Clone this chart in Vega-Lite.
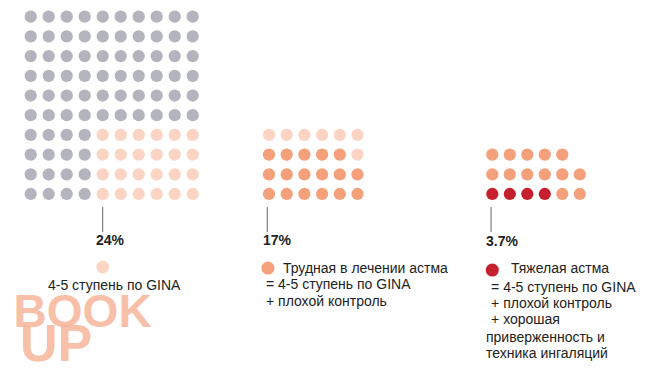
{
  "$schema": "https://vega.github.io/schema/vega-lite/v6.json",
  "padding": 0,
  "spacing": 0,
  "background": "white",
  "config": {"view": {"stroke": null}, "concat": {"spacing": 0}},
  "resolve": {"scale": {"x": "independent", "y": "independent"}},
  "datasets": {
    "dots": [
      {"g":1,"col":0,"row":0,"cat":"o"},{"g":1,"col":1,"row":0,"cat":"o"},{"g":1,"col":2,"row":0,"cat":"o"},{"g":1,"col":3,"row":0,"cat":"o"},{"g":1,"col":4,"row":0,"cat":"o"},{"g":1,"col":5,"row":0,"cat":"o"},{"g":1,"col":6,"row":0,"cat":"o"},{"g":1,"col":7,"row":0,"cat":"o"},{"g":1,"col":8,"row":0,"cat":"o"},{"g":1,"col":9,"row":0,"cat":"o"},
      {"g":1,"col":0,"row":1,"cat":"o"},{"g":1,"col":1,"row":1,"cat":"o"},{"g":1,"col":2,"row":1,"cat":"o"},{"g":1,"col":3,"row":1,"cat":"o"},{"g":1,"col":4,"row":1,"cat":"o"},{"g":1,"col":5,"row":1,"cat":"o"},{"g":1,"col":6,"row":1,"cat":"o"},{"g":1,"col":7,"row":1,"cat":"o"},{"g":1,"col":8,"row":1,"cat":"o"},{"g":1,"col":9,"row":1,"cat":"o"},
      {"g":1,"col":0,"row":2,"cat":"o"},{"g":1,"col":1,"row":2,"cat":"o"},{"g":1,"col":2,"row":2,"cat":"o"},{"g":1,"col":3,"row":2,"cat":"o"},{"g":1,"col":4,"row":2,"cat":"o"},{"g":1,"col":5,"row":2,"cat":"o"},{"g":1,"col":6,"row":2,"cat":"o"},{"g":1,"col":7,"row":2,"cat":"o"},{"g":1,"col":8,"row":2,"cat":"o"},{"g":1,"col":9,"row":2,"cat":"o"},
      {"g":1,"col":0,"row":3,"cat":"o"},{"g":1,"col":1,"row":3,"cat":"o"},{"g":1,"col":2,"row":3,"cat":"o"},{"g":1,"col":3,"row":3,"cat":"o"},{"g":1,"col":4,"row":3,"cat":"o"},{"g":1,"col":5,"row":3,"cat":"o"},{"g":1,"col":6,"row":3,"cat":"o"},{"g":1,"col":7,"row":3,"cat":"o"},{"g":1,"col":8,"row":3,"cat":"o"},{"g":1,"col":9,"row":3,"cat":"o"},
      {"g":1,"col":0,"row":4,"cat":"o"},{"g":1,"col":1,"row":4,"cat":"o"},{"g":1,"col":2,"row":4,"cat":"o"},{"g":1,"col":3,"row":4,"cat":"o"},{"g":1,"col":4,"row":4,"cat":"o"},{"g":1,"col":5,"row":4,"cat":"o"},{"g":1,"col":6,"row":4,"cat":"o"},{"g":1,"col":7,"row":4,"cat":"o"},{"g":1,"col":8,"row":4,"cat":"o"},{"g":1,"col":9,"row":4,"cat":"o"},
      {"g":1,"col":0,"row":5,"cat":"o"},{"g":1,"col":1,"row":5,"cat":"o"},{"g":1,"col":2,"row":5,"cat":"o"},{"g":1,"col":3,"row":5,"cat":"o"},{"g":1,"col":4,"row":5,"cat":"o"},{"g":1,"col":5,"row":5,"cat":"o"},{"g":1,"col":6,"row":5,"cat":"o"},{"g":1,"col":7,"row":5,"cat":"o"},{"g":1,"col":8,"row":5,"cat":"o"},{"g":1,"col":9,"row":5,"cat":"o"},
      {"g":1,"col":0,"row":6,"cat":"o"},{"g":1,"col":1,"row":6,"cat":"o"},{"g":1,"col":2,"row":6,"cat":"o"},{"g":1,"col":3,"row":6,"cat":"o"},{"g":1,"col":4,"row":6,"cat":"p"},{"g":1,"col":5,"row":6,"cat":"p"},{"g":1,"col":6,"row":6,"cat":"p"},{"g":1,"col":7,"row":6,"cat":"p"},{"g":1,"col":8,"row":6,"cat":"p"},{"g":1,"col":9,"row":6,"cat":"p"},
      {"g":1,"col":0,"row":7,"cat":"o"},{"g":1,"col":1,"row":7,"cat":"o"},{"g":1,"col":2,"row":7,"cat":"o"},{"g":1,"col":3,"row":7,"cat":"o"},{"g":1,"col":4,"row":7,"cat":"p"},{"g":1,"col":5,"row":7,"cat":"p"},{"g":1,"col":6,"row":7,"cat":"p"},{"g":1,"col":7,"row":7,"cat":"p"},{"g":1,"col":8,"row":7,"cat":"p"},{"g":1,"col":9,"row":7,"cat":"p"},
      {"g":1,"col":0,"row":8,"cat":"o"},{"g":1,"col":1,"row":8,"cat":"o"},{"g":1,"col":2,"row":8,"cat":"o"},{"g":1,"col":3,"row":8,"cat":"o"},{"g":1,"col":4,"row":8,"cat":"p"},{"g":1,"col":5,"row":8,"cat":"p"},{"g":1,"col":6,"row":8,"cat":"p"},{"g":1,"col":7,"row":8,"cat":"p"},{"g":1,"col":8,"row":8,"cat":"p"},{"g":1,"col":9,"row":8,"cat":"p"},
      {"g":1,"col":0,"row":9,"cat":"o"},{"g":1,"col":1,"row":9,"cat":"o"},{"g":1,"col":2,"row":9,"cat":"o"},{"g":1,"col":3,"row":9,"cat":"o"},{"g":1,"col":4,"row":9,"cat":"p"},{"g":1,"col":5,"row":9,"cat":"p"},{"g":1,"col":6,"row":9,"cat":"p"},{"g":1,"col":7,"row":9,"cat":"p"},{"g":1,"col":8,"row":9,"cat":"p"},{"g":1,"col":9,"row":9,"cat":"p"},
      {"g":2,"col":0,"row":6,"cat":"p"},{"g":2,"col":1,"row":6,"cat":"p"},{"g":2,"col":2,"row":6,"cat":"p"},{"g":2,"col":3,"row":6,"cat":"p"},{"g":2,"col":4,"row":6,"cat":"p"},{"g":2,"col":5,"row":6,"cat":"p"},
      {"g":2,"col":0,"row":7,"cat":"t"},{"g":2,"col":1,"row":7,"cat":"t"},{"g":2,"col":2,"row":7,"cat":"t"},{"g":2,"col":3,"row":7,"cat":"t"},{"g":2,"col":4,"row":7,"cat":"t"},{"g":2,"col":5,"row":7,"cat":"p"},
      {"g":2,"col":0,"row":8,"cat":"t"},{"g":2,"col":1,"row":8,"cat":"t"},{"g":2,"col":2,"row":8,"cat":"t"},{"g":2,"col":3,"row":8,"cat":"t"},{"g":2,"col":4,"row":8,"cat":"t"},{"g":2,"col":5,"row":8,"cat":"t"},
      {"g":2,"col":0,"row":9,"cat":"t"},{"g":2,"col":1,"row":9,"cat":"t"},{"g":2,"col":2,"row":9,"cat":"t"},{"g":2,"col":3,"row":9,"cat":"t"},{"g":2,"col":4,"row":9,"cat":"t"},{"g":2,"col":5,"row":9,"cat":"t"},
      {"g":3,"col":0,"row":7,"cat":"t"},{"g":3,"col":1,"row":7,"cat":"t"},{"g":3,"col":2,"row":7,"cat":"t"},{"g":3,"col":3,"row":7,"cat":"t"},{"g":3,"col":4,"row":7,"cat":"t"},
      {"g":3,"col":0,"row":8,"cat":"t"},{"g":3,"col":1,"row":8,"cat":"t"},{"g":3,"col":2,"row":8,"cat":"t"},{"g":3,"col":3,"row":8,"cat":"t"},{"g":3,"col":4,"row":8,"cat":"t"},{"g":3,"col":5,"row":8,"cat":"t"},
      {"g":3,"col":0,"row":9,"cat":"s"},{"g":3,"col":1,"row":9,"cat":"s"},{"g":3,"col":2,"row":9,"cat":"s"},{"g":3,"col":3,"row":9,"cat":"s"},{"g":3,"col":4,"row":9,"cat":"t"},{"g":3,"col":5,"row":9,"cat":"t"}
    ],
    "notes": [
      {"g":1,"kind":"wm1","col":-0.95,"row":15.75,"label":"BOOK"},
      {"g":1,"kind":"wm2","col":-0.6,"row":17.5,"label":"UP"},
      {"g":1,"kind":"rule","col":4,"row":9.66,"row2":10.93},
      {"g":1,"kind":"pct","col":3.63,"row":11.59,"label":"24%"},
      {"g":1,"kind":"dot","col":4,"row":12.71,"cat":"p"},
      {"g":1,"kind":"text","col":0.96,"row":13.87,"label":"4-5 ступень по GINA"},
      {"g":2,"kind":"rule","col":-0.1,"row":9.66,"row2":10.93},
      {"g":2,"kind":"pct","col":-0.34,"row":11.59,"label":"17%"},
      {"g":2,"kind":"dot","col":-0.06,"row":12.76,"cat":"t"},
      {"g":2,"kind":"text","col":0.79,"row":13.01,"label":"Трудная в лечении астма"},
      {"g":2,"kind":"text","col":-0.17,"row":13.84,"label":"= 4-5 ступень по GINA"},
      {"g":2,"kind":"text","col":-0.17,"row":14.7,"label":"+ плохой контроль"},
      {"g":3,"kind":"rule","col":-0.07,"row":9.66,"row2":10.93},
      {"g":3,"kind":"pct","col":-0.36,"row":11.64,"label":"3.7%"},
      {"g":3,"kind":"dot","col":0,"row":12.86,"cat":"s"},
      {"g":3,"kind":"text","col":1.07,"row":13.01,"label":"Тяжелая астма"},
      {"g":3,"kind":"text","col":-0.07,"row":13.97,"label":"= 4-5 ступень по GINA"},
      {"g":3,"kind":"text","col":-0.07,"row":14.79,"label":"+ плохой контроль"},
      {"g":3,"kind":"text","col":-0.07,"row":15.6,"label":"+ хорошая"},
      {"g":3,"kind":"text","col":-0.36,"row":16.51,"label":"приверженность и"},
      {"g":3,"kind":"text","col":-0.36,"row":17.32,"label":"техника ингаляций"}
    ]
  },
  "hconcat": [
    {
      "width": 250, "height": 372,
      "encoding": {
        "x": {"field": "col", "type": "quantitative", "axis": null, "scale": {"domain": [-1.706, 12.183], "nice": false, "zero": false}},
        "y": {"field": "row", "type": "quantitative", "axis": null, "scale": {"domain": [-0.848, 18.036], "nice": false, "zero": false, "reverse": true}}
      },
      "layer": [
        {"data": {"name": "notes"}, "transform": [{"filter": "datum.g == 1 && datum.kind == 'wm1'"}],
         "mark": {"type": "text", "align": "left", "baseline": "alphabetic", "font": "Liberation Sans", "fontWeight": "bold", "fontSize": 46, "color": "#f7b59b", "opacity": 0.85},
         "encoding": {"text": {"field": "label"}}},
        {"data": {"name": "notes"}, "transform": [{"filter": "datum.g == 1 && datum.kind == 'wm2'"}],
         "mark": {"type": "text", "align": "left", "baseline": "alphabetic", "font": "Liberation Sans", "fontWeight": "bold", "fontSize": 52, "color": "#f7b59b", "opacity": 0.85},
         "encoding": {"text": {"field": "label"}}},
        {"data": {"name": "dots"}, "transform": [{"filter": "datum.g == 1"}],
         "mark": {"type": "circle", "size": 150, "opacity": 1},
         "encoding": {"color": {"field": "cat", "type": "nominal", "legend": null, "scale": {"domain": ["o","p","t","s"], "range": ["#b4b4be","#fbd4c3","#f4a07b","#c61f2d"]}}}},
        {"data": {"name": "notes"}, "transform": [{"filter": "datum.g == 1 && datum.kind == 'rule'"}],
         "mark": {"type": "rule", "color": "#666666", "strokeWidth": 1},
         "encoding": {"y2": {"field": "row2"}}},
        {"data": {"name": "notes"}, "transform": [{"filter": "datum.g == 1 && datum.kind == 'dot'"}],
         "mark": {"type": "circle", "size": 160, "opacity": 1},
         "encoding": {"color": {"field": "cat", "type": "nominal", "legend": null, "scale": {"domain": ["o","p","t","s"], "range": ["#b4b4be","#fbd4c3","#f4a07b","#c61f2d"]}}}},
        {"data": {"name": "notes"}, "transform": [{"filter": "datum.g == 1 && datum.kind == 'pct'"}],
         "mark": {"type": "text", "align": "left", "baseline": "alphabetic", "font": "Liberation Sans", "fontWeight": "bold", "fontSize": 14, "color": "#222222"},
         "encoding": {"text": {"field": "label"}}},
        {"data": {"name": "notes"}, "transform": [{"filter": "datum.g == 1 && datum.kind == 'text'"}],
         "mark": {"type": "text", "align": "left", "baseline": "alphabetic", "font": "Liberation Sans", "fontSize": 14, "color": "#222222"},
         "encoding": {"text": {"field": "label"}}}
      ]
    },
    {
      "width": 220, "height": 372,
      "encoding": {
        "x": {"field": "col", "type": "quantitative", "axis": null, "scale": {"domain": [-1.073, 11.356], "nice": false, "zero": false}},
        "y": {"field": "row", "type": "quantitative", "axis": null, "scale": {"domain": [-0.848, 18.036], "nice": false, "zero": false, "reverse": true}}
      },
      "layer": [
        {"data": {"name": "dots"}, "transform": [{"filter": "datum.g == 2"}],
         "mark": {"type": "circle", "size": 150, "opacity": 1},
         "encoding": {"color": {"field": "cat", "type": "nominal", "legend": null, "scale": {"domain": ["o","p","t","s"], "range": ["#b4b4be","#fbd4c3","#f4a07b","#c61f2d"]}}}},
        {"data": {"name": "notes"}, "transform": [{"filter": "datum.g == 2 && datum.kind == 'rule'"}],
         "mark": {"type": "rule", "color": "#666666", "strokeWidth": 1},
         "encoding": {"y2": {"field": "row2"}}},
        {"data": {"name": "notes"}, "transform": [{"filter": "datum.g == 2 && datum.kind == 'dot'"}],
         "mark": {"type": "circle", "size": 170, "opacity": 1},
         "encoding": {"color": {"field": "cat", "type": "nominal", "legend": null, "scale": {"domain": ["o","p","t","s"], "range": ["#b4b4be","#fbd4c3","#f4a07b","#c61f2d"]}}}},
        {"data": {"name": "notes"}, "transform": [{"filter": "datum.g == 2 && datum.kind == 'pct'"}],
         "mark": {"type": "text", "align": "left", "baseline": "alphabetic", "font": "Liberation Sans", "fontWeight": "bold", "fontSize": 14, "color": "#222222"},
         "encoding": {"text": {"field": "label"}}},
        {"data": {"name": "notes"}, "transform": [{"filter": "datum.g == 2 && datum.kind == 'text'"}],
         "mark": {"type": "text", "align": "left", "baseline": "alphabetic", "font": "Liberation Sans", "fontSize": 14, "color": "#222222"},
         "encoding": {"text": {"field": "label"}}}
      ]
    },
    {
      "width": 182, "height": 372,
      "encoding": {
        "x": {"field": "col", "type": "quantitative", "axis": null, "scale": {"domain": [-1.274, 9.126], "nice": false, "zero": false}},
        "y": {"field": "row", "type": "quantitative", "axis": null, "scale": {"domain": [-0.848, 18.036], "nice": false, "zero": false, "reverse": true}}
      },
      "layer": [
        {"data": {"name": "dots"}, "transform": [{"filter": "datum.g == 3"}],
         "mark": {"type": "circle", "size": 150, "opacity": 1},
         "encoding": {"color": {"field": "cat", "type": "nominal", "legend": null, "scale": {"domain": ["o","p","t","s"], "range": ["#b4b4be","#fbd4c3","#f4a07b","#c61f2d"]}}}},
        {"data": {"name": "notes"}, "transform": [{"filter": "datum.g == 3 && datum.kind == 'rule'"}],
         "mark": {"type": "rule", "color": "#666666", "strokeWidth": 1},
         "encoding": {"y2": {"field": "row2"}}},
        {"data": {"name": "notes"}, "transform": [{"filter": "datum.g == 3 && datum.kind == 'dot'"}],
         "mark": {"type": "circle", "size": 170, "opacity": 1},
         "encoding": {"color": {"field": "cat", "type": "nominal", "legend": null, "scale": {"domain": ["o","p","t","s"], "range": ["#b4b4be","#fbd4c3","#f4a07b","#c61f2d"]}}}},
        {"data": {"name": "notes"}, "transform": [{"filter": "datum.g == 3 && datum.kind == 'pct'"}],
         "mark": {"type": "text", "align": "left", "baseline": "alphabetic", "font": "Liberation Sans", "fontWeight": "bold", "fontSize": 14, "color": "#222222"},
         "encoding": {"text": {"field": "label"}}},
        {"data": {"name": "notes"}, "transform": [{"filter": "datum.g == 3 && datum.kind == 'text'"}],
         "mark": {"type": "text", "align": "left", "baseline": "alphabetic", "font": "Liberation Sans", "fontSize": 14, "color": "#222222"},
         "encoding": {"text": {"field": "label"}}}
      ]
    }
  ]
}
